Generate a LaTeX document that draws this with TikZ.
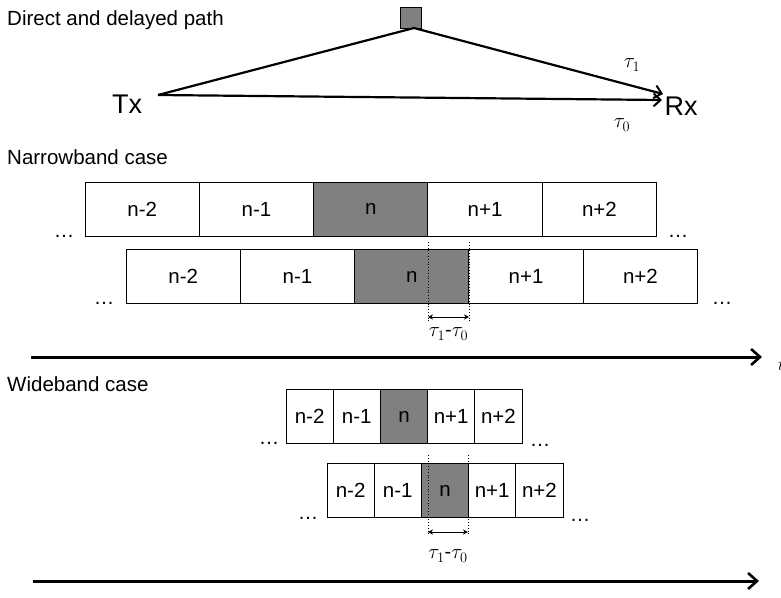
\documentclass[tikz,border=0pt]{standalone}
\usepackage{fontspec}
\setmainfont{Liberation Sans}
\usetikzlibrary{arrows.meta}
\tikzset{
  cell/.style={draw, line width=1pt, inner sep=0pt, outer sep=0pt, minimum height=54pt, font=\fontsize{20.5}{23}\selectfont},
  ncell/.style={cell, minimum width=114.3pt},
  wcell/.style={cell, minimum width=47.2pt},
  shade/.style={fill=black!50},
  title/.style={anchor=west, inner sep=0pt, font=\fontsize{20.5}{23}\selectfont},
  dots/.style={anchor=base, inner sep=0pt, font=\fontsize{20.5}{23}\selectfont},
  path/.style={line width=2.2pt, -{Straight Barb[length=7pt,width=13pt,line width=2pt]}},
  axis/.style={line width=3pt, -{Straight Barb[length=9pt,width=16pt,line width=2.6pt]}},
  delay/.style={line width=0.8pt, {Stealth[length=5pt,width=5pt]}-{Stealth[length=5pt,width=5pt]}},
  dline/.style={dotted, line width=0.8pt},
  tau/.style={inner sep=0pt, font=\fontsize{20}{22}\selectfont}
}
\begin{document}
\begin{tikzpicture}[x=1pt,y=-1pt]
\useasboundingbox (0,0) rectangle (781,597);
% top
\node[title] (t1) at (7,20) {Direct and delayed path};
\node[draw, fill=black!50, line width=1pt, minimum size=21pt, inner sep=0pt] (sq) at (410.5,17.5) {};
\node[inner sep=0pt, font=\fontsize{27}{30}\selectfont] (tx) at (127,104) {Tx};
\node[inner sep=0pt, font=\fontsize{27}{30}\selectfont] (rx) at (681,106) {Rx};
\coordinate (txp) at (158,95);
\coordinate (apex) at (414,28);
\coordinate (rx1) at (663,94);
\coordinate (rx0) at (662,100);
\draw[line width=2.2pt, line join=round] (txp) -- (apex);
\draw[path] (apex) -- (rx1);
\draw[path] (txp) -- (rx0);
\node[tau] (tau1) at (632,65) {$\tau_1$};
\node[tau] (tau0) at (622,125) {$\tau_0$};
% narrowband
\node[title] (t2) at (7,157) {Narrowband case};
\node[ncell] (a0) at (142.2,209) {n-2};
\node[ncell] (a1) at (256.5,209) {n-1};
\node[ncell,shade] (a2) at (370.8,209) {n};
\node[ncell] (a3) at (485.1,209) {n+1};
\node[ncell] (a4) at (599.4,209) {n+2};
\node[ncell] (b0) at (183.2,276.5) {n-2};
\node[ncell] (b1) at (297.5,276.5) {n-1};
\node[ncell,shade] (b2) at (411.8,276.5) {n};
\node[ncell] (b3) at (526.1,276.5) {n+1};
\node[ncell] (b4) at (640.4,276.5) {n+2};
\node[dots] (ad1) at (64,237) {…};
\node[dots] (ad2) at (678,237) {…};
\node[dots] (bd1) at (104,304) {…};
\node[dots] (bd2) at (722,304) {…};
\coordinate (n1t) at (428,242);
\coordinate (n1b) at (428,321);
\coordinate (n2t) at (469,242);
\coordinate (n2b) at (469,321);
\draw[dline] (n1t) -- (n1b);
\draw[dline] (n2t) -- (n2b);
\coordinate (n1m) at (428,317);
\coordinate (n2m) at (469,317);
\draw[delay] (n1m) -- (n2m);
\node[tau] (nd) at (448.5,334) {$\tau_1$-$\tau_0$};
\coordinate (ax1s) at (31,357);
\coordinate (ax1e) at (762,357);
\draw[axis] (ax1s) -- (ax1e);
\node[anchor=west, inner sep=0pt, font=\fontsize{18}{20}\selectfont] (tl) at (778,365) {$t$};
% wideband
\node[title] (t3) at (7,384) {Wideband case};
\node[wcell] (c0) at (309.6,416.5) {n-2};
\node[wcell] (c1) at (356.8,416.5) {n-1};
\node[wcell,shade] (c2) at (404,416.5) {n};
\node[wcell] (c3) at (451.2,416.5) {n+1};
\node[wcell] (c4) at (498.4,416.5) {n+2};
\node[wcell] (d0) at (350.6,490.5) {n-2};
\node[wcell] (d1) at (397.8,490.5) {n-1};
\node[wcell,shade] (d2) at (445,490.5) {n};
\node[wcell] (d3) at (492.2,490.5) {n+1};
\node[wcell] (d4) at (539.4,490.5) {n+2};
\node[dots] (cd1) at (269,444) {…};
\node[dots] (cd2) at (540,446) {…};
\node[dots] (dd1) at (308,519) {…};
\node[dots] (dd2) at (580,521) {…};
\coordinate (w1t) at (428,455);
\coordinate (w1b) at (428,536);
\coordinate (w2t) at (468,455);
\coordinate (w2b) at (468,536);
\draw[dline] (w1t) -- (w1b);
\draw[dline] (w2t) -- (w2b);
\coordinate (w1m) at (428,532);
\coordinate (w2m) at (468,532);
\draw[delay] (w1m) -- (w2m);
\node[tau] (wd) at (448,556) {$\tau_1$-$\tau_0$};
\coordinate (ax2s) at (33,581);
\coordinate (ax2e) at (759,581);
\draw[axis] (ax2s) -- (ax2e);
\end{tikzpicture}
\end{document}
